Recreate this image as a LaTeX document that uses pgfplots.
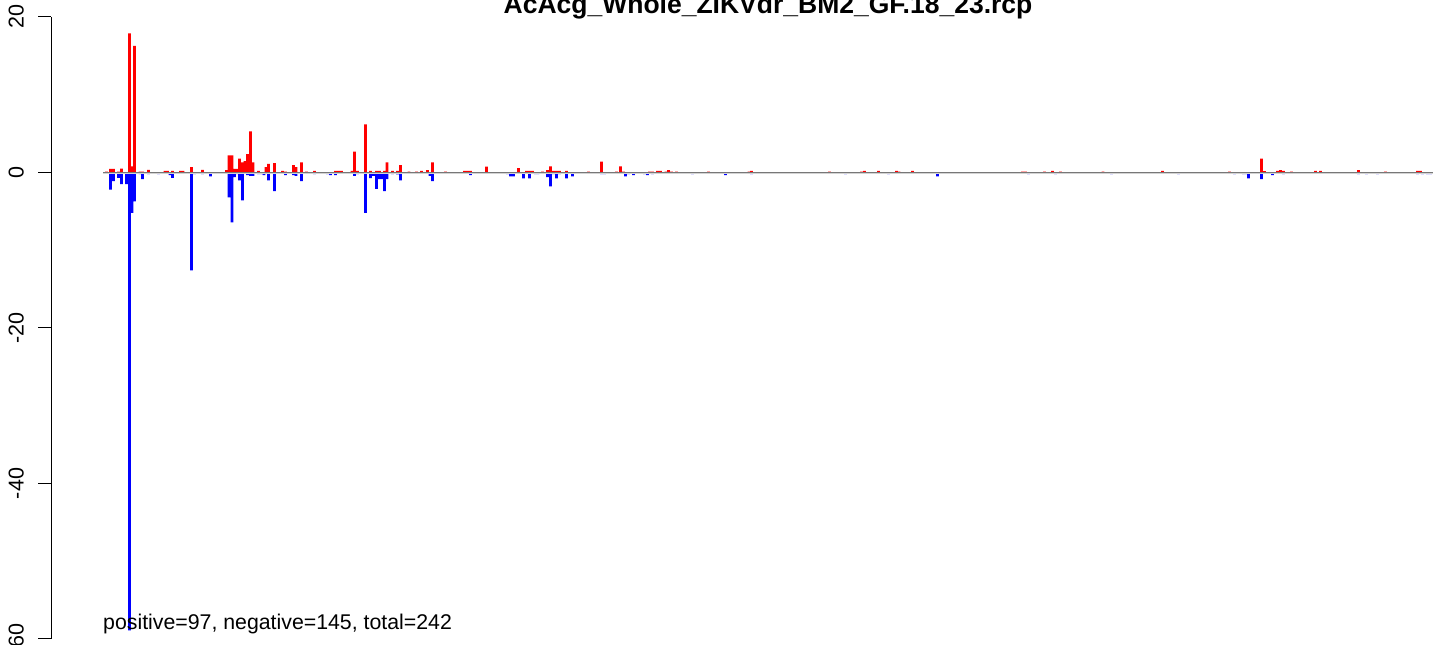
\documentclass[border=0pt]{standalone}
\usepackage{fontspec}
\setmainfont{Liberation Sans}
\usepackage{pgfplots}
\pgfplotsset{compat=1.18}
\usepackage{pgfplotstable}
\definecolor{dg}{HTML}{777777}
\definecolor{lg}{HTML}{D3D3D3}
\pgfplotstableread{
x y
106.5 0.12
110.5 0.45
113.5 0.45
118.5 0.1
121.5 0.5
129.5 17.9
132 0.8
134.5 16.3
140 0.1
142.5 0.1
148.5 0.35
165 0.2
167.5 0.2
172.5 0.2
180.5 0.2
183 0.2
191.5 0.7
202.5 0.35
226.5 0.3
229 2.2
232 2.2
234.5 0.45
237 0.45
239.5 1.8
242.5 1.3
245 1.45
247.5 2.35
250.5 5.3
253 1.3
258.5 0.2
266 0.7
268.5 1.1
274.5 1.2
282.5 0.2
285.5 0.1
293.5 0.95
296 0.7
301.5 1.3
306.5 0.1
314.5 0.2
335.5 0.2
338.5 0.2
341.5 0.2
352 0.2
354.5 2.7
357.5 0.2
365.5 6.2
370.5 0.2
376.5 0.2
379.5 0.2
384.5 0.2
387 1.3
392.5 0.2
397.5 0.2
400.5 0.95
409 0.1
416.5 0.1
421.5 0.2
427.5 0.3
432.5 1.3
445.5 0.1
464.5 0.2
467.5 0.2
470.5 0.2
486.5 0.75
518.5 0.55
526.5 0.2
529.5 0.2
532.5 0.2
542.5 0.1
547.5 0.3
550.5 0.8
553.5 0.2
556.5 0.2
559.5 0.2
566.5 0.2
588.5 0.1
601.5 1.4
616.5 0.1
620.5 0.8
623.5 0.1
649.5 0.1
652.5 0.1
657.5 0.2
660.5 0.2
666 0.1
668.5 0.3
671.5 0.1
676.5 0.1
708.5 0.1
749 0.1
751.5 0.2
829.5 0.1
861.5 0.1
864.5 0.2
878.5 0.2
896.5 0.2
899 0.1
912.5 0.2
1022.5 0.1
1025.5 0.1
1044.5 0.1
1052.5 0.2
1060.5 0.1
1103 0.1
1162.5 0.2
1229.5 0.1
1261.5 1.8
1264.5 0.17
1277.5 0.2
1280.5 0.3
1283.5 0.2
1291.5 0.1
1315.5 0.2
1320.5 0.2
1358.5 0.3
1385.5 0.1
1417.5 0.2
1420.5 0.2
}\posdata
\pgfplotstableread{
x y
110.5 -2.2
113.5 -1.1
118.5 -0.7
121.5 -1.5
126.5 -1.5
129.5 -58.9
132 -5.2
134.5 -3.7
140 -0.2
142.5 -0.85
148.5 -0.2
158.5 -0.2
170 -0.35
172.5 -0.7
191.5 -12.6
194.5 -0.2
202.5 -0.2
210.5 -0.5
229 -3.2
232 -6.4
234.5 -0.6
237 -0.2
239.5 -1.0
242.5 -3.6
247.5 -0.35
250.5 -0.45
253 -0.45
258.5 -0.2
261.5 -0.2
264 -0.35
268.5 -1.0
274.5 -2.4
282.5 -0.15
285.5 -0.35
293.5 -0.35
296 -0.45
301.5 -1.1
314.5 -0.2
322.5 -0.1
327.5 -0.2
330.5 -0.35
335.5 -0.35
354.5 -0.45
357.5 -0.2
365.5 -5.2
370.5 -0.73
373.5 -0.45
376.5 -2.1
379.5 -0.85
382 -0.85
384.5 -2.4
387 -0.85
392.5 -0.2
397.5 -0.25
400.5 -1.0
430 -0.45
432.5 -1.1
448.5 -0.1
454.5 -0.1
470.5 -0.35
475.5 -0.1
486.5 -0.15
507.5 -0.2
510.5 -0.5
513.5 -0.5
518.5 -0.15
523.5 -0.75
529.5 -0.75
532.5 -0.15
535.5 -0.2
538 -0.2
547.5 -0.6
550.5 -1.8
553.5 -0.2
556.5 -0.75
559.5 -0.2
566.5 -0.75
572.5 -0.5
582.5 -0.1
593.5 -0.1
601.5 -0.2
604.5 -0.2
620.5 -0.1
625.5 -0.5
628.5 -0.2
633.5 -0.35
644.5 -0.2
647.5 -0.35
652.5 -0.2
692.5 -0.2
725.5 -0.35
751.5 -0.2
816.5 -0.1
821.5 -0.1
845.5 -0.2
848.5 -0.1
875.5 -0.1
888.5 -0.2
907.5 -0.1
937.5 -0.5
955.5 -0.1
1028.5 -0.2
1055.5 -0.2
1065.5 -0.1
1079.5 -0.15
1100.5 -0.1
1111.5 -0.2
1141.5 -0.1
1151.5 -0.1
1165.5 -0.1
1178.5 -0.2
1234.5 -0.2
1243.5 -0.2
1246 -0.2
1248.5 -0.75
1259 -0.1
1261.5 -0.85
1272.5 -0.35
1283.5 -0.2
1334.5 -0.1
1358.5 -0.2
1366.5 -0.2
1377.5 -0.2
1406.5 -0.1
1417.5 -0.2
1422.5 -0.2
1427.5 -0.2
1430.5 -0.2
}\negdata
\begin{document}
\begin{tikzpicture}
\useasboundingbox (0,0) rectangle (1444pt,645pt);
\begin{axis}[
  at={(51pt,6pt)}, anchor=south west,
  scale only axis, width=1393pt, height=622pt,
  xmin=51, xmax=1444, ymin=-60, ymax=20,
  axis y line*=left, axis x line=none,
  ytick={-60,-40,-20,0,20}, yticklabels={-60,-40,-20,0,20},
  tick align=outside, major tick length=13pt,
  every tick/.style={black, line width=1pt},
  axis line style={black, line width=1pt},
  yticklabel style={xshift=-14pt, rotate=90, anchor=south, inner sep=0pt, font=\fontsize{21.5}{25}\selectfont},
  clip=false,
]
\addplot[ybar, bar width=2.8, bar shift=0pt, fill=red, draw=none] table {\posdata};
\addplot[ybar, bar width=2.8, bar shift=0pt, fill=blue, draw=none] table {\negdata};
\addplot[lg, line width=1.2pt, yshift=-1pt] coordinates {(103,0) (1433,0)};
\addplot[dg, line width=1.2pt] coordinates {(103,0) (1433,0)};
\node[anchor=base west, inner sep=0pt, font=\fontsize{21.3}{25}\selectfont] at (axis cs:103,-58.74) {positive=97, negative=145, total=242};
\node[anchor=base, inner sep=0pt, font=\bfseries\fontsize{26.5}{30}\selectfont] at (axis cs:768,20.44) {AcAcg\_Whole\_ZIKVdr\_BM2\_GF.18\_23.rcp};
\end{axis}
\end{tikzpicture}
\end{document}
